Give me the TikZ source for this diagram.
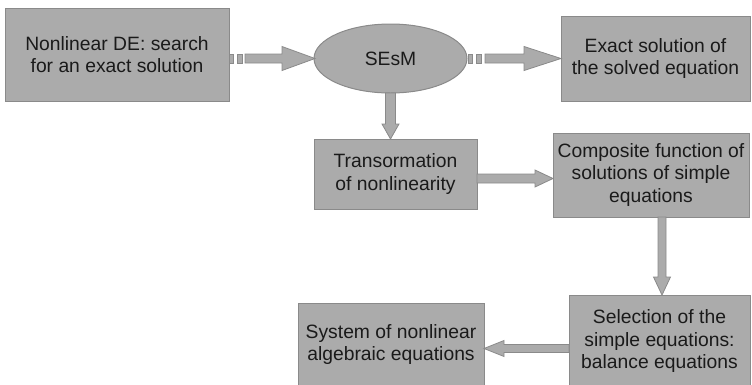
\documentclass[tikz,border=0pt]{standalone}
\usepackage{fontspec}
\setmainfont{Liberation Sans}
\usetikzlibrary{calc,shapes.geometric}
\definecolor{boxfill}{HTML}{ABABAB}
\definecolor{boxline}{HTML}{8A8A8A}
\definecolor{boxtext}{HTML}{1A1A1A}
\tikzset{
  stage/.style={draw=boxline, fill=boxfill, line width=1pt, text=boxtext,
    align=center, inner sep=0pt, outer sep=0pt, font=\fontsize{19.3}{22.5}\selectfont},
  arrowbody/.style={draw=boxline, fill=boxfill, line width=0.8pt, line join=miter},
}
% start, tip, shaft half width, head half width, head length
\newcommand{\blockarrow}[5]{%
  \coordinate (hb) at ($(#2)!#5!(#1)$);
  \draw[arrowbody] ($(#1)!#3!90:(#2)$) -- ($(hb)!#3!90:(#2)$) -- ($(hb)!#4!90:(#2)$)
    -- (#2) -- ($(hb)!#4!-90:(#2)$) -- ($(hb)!#3!-90:(#2)$) -- ($(#1)!#3!-90:(#2)$) -- cycle;
}
% two small blocks in front of a horizontal shaft
\newcommand{\stripes}[1]{%
  \draw[arrowbody] ([yshift=4.5pt]#1) rectangle ([xshift=4pt,yshift=-4.5pt]#1);
  \draw[arrowbody] ([xshift=8.5pt,yshift=4.5pt]#1) rectangle ([xshift=13pt,yshift=-4.5pt]#1);
}
\begin{document}
\begin{tikzpicture}[x=1pt, y=-1pt]
  \useasboundingbox (0,0) rectangle (752,384);
  \clip (0,0) rectangle (752,384);

  \node[stage, minimum width=224pt, minimum height=93pt] (de) at (117,54.5)
    {Nonlinear DE: search\\for an exact solution};
  \node[stage, ellipse, minimum width=153pt, minimum height=69pt] (sesm) at (390.5,58.5) {SEsM};
  \node[stage, minimum width=189pt, minimum height=85pt] (exact) at (655.5,58.5)
    {Exact solution of\\the solved equation};
  \node[stage, minimum width=163pt, minimum height=70pt] (trans) at (395.5,174)
    {Transormation\\of nonlinearity};
  \node[stage, minimum width=196pt, minimum height=84pt] (comp) at (651,175)
    {Composite function of\\solutions of simple\\equations};
  \node[stage, minimum width=181pt, minimum height=93pt] (sel) at (659.5,341.5)
    {Selection of the\\simple equations:\\balance equations};
  \node[stage, minimum width=186pt, minimum height=83pt] (sys) at (391,344.5)
    {System of nonlinear\\algebraic equations};

  % DE -> SEsM -> exact solution
  \coordinate (a1) at (de.east |- sesm.center);
  \stripes{a1}
  \coordinate (a1s) at ($(a1)+(16,0)$);
  \coordinate (a1e) at ($(sesm.west)+(1,0)$);
  \blockarrow{a1s}{a1e}{4.5pt}{12pt}{33pt}

  \coordinate (a2) at ($(sesm.east)+(1,0)$);
  \stripes{a2}
  \coordinate (a2s) at ($(a2)+(17,0)$);
  \coordinate (a2e) at (exact.west |- sesm.center);
  \blockarrow{a2s}{a2e}{4.5pt}{12pt}{37pt}

  % the chain below
  \coordinate (a3e) at (sesm.south |- trans.north);
  \blockarrow{sesm.south}{a3e}{5pt}{8.5pt}{15pt}

  \coordinate (a4s) at ($(trans.east)+(0,4.5)$);
  \coordinate (a4e) at (comp.west |- a4s);
  \blockarrow{a4s}{a4e}{4.5pt}{8.5pt}{18pt}

  \coordinate (a5s) at ($(comp.south)+(11,0)$);
  \coordinate (a5e) at (a5s |- sel.north);
  \blockarrow{a5s}{a5e}{4pt}{8.5pt}{18pt}

  \coordinate (a6s) at ($(sel.west)+(0,7)$);
  \coordinate (a6e) at (sys.east |- a6s);
  \blockarrow{a6s}{a6e}{4pt}{8pt}{20pt}
\end{tikzpicture}
\end{document}
